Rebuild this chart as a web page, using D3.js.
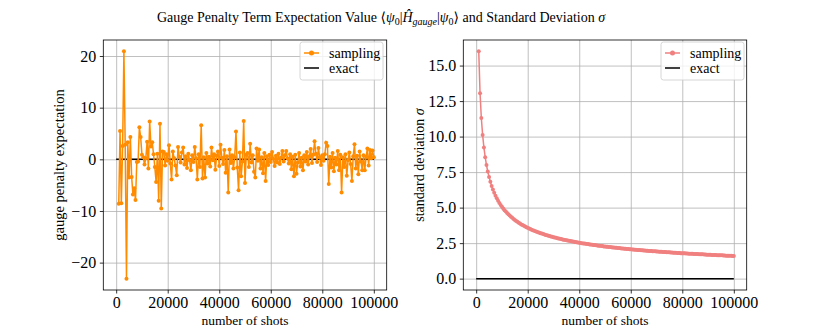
<!DOCTYPE html>
<html>
<head>
<meta charset="utf-8">
<script src="https://d3js.org/d3.v7.min.js"></script>
<style>
  body { margin: 0; background: #fff; }
  svg text { font-family: "Liberation Serif", "DejaVu Serif", serif; fill: #000; }
</style>
</head>
<body>
<svg width="830" height="332"></svg>
<script>
// number of shots per sample
var shots = [1000,1500,2000,2500,3000,3500,4000,4500,5000,5500,6000,6500,7000,7500,8000,8500,9000,9500,10000,10500,
  11000,11500,12000,12500,13000,13500,14000,14500,15000,15500,16000,16500,17000,17500,18000,18500,19000,19500,20000,20500,
  21000,21500,22000,22500,23000,23500,24000,24500,25000,25500,26000,26500,27000,27500,28000,28500,29000,29500,30000,30500,
  31000,31500,32000,32500,33000,33500,34000,34500,35000,35500,36000,36500,37000,37500,38000,38500,39000,39500,40000,40500,
  41000,41500,42000,42500,43000,43500,44000,44500,45000,45500,46000,46500,47000,47500,48000,48500,49000,49500,50000,50500,
  51000,51500,52000,52500,53000,53500,54000,54500,55000,55500,56000,56500,57000,57500,58000,58500,59000,59500,60000,60500,
  61000,61500,62000,62500,63000,63500,64000,64500,65000,65500,66000,66500,67000,67500,68000,68500,69000,69500,70000,70500,
  71000,71500,72000,72500,73000,73500,74000,74500,75000,75500,76000,76500,77000,77500,78000,78500,79000,79500,80000,80500,
  81000,81500,82000,82500,83000,83500,84000,84500,85000,85500,86000,86500,87000,87500,88000,88500,89000,89500,90000,90500,
  91000,91500,92000,92500,93000,93500,94000,94500,95000,95500,96000,96500,97000,97500,98000,98500,99000,99500,100000];

var expectation = [-8.6,5.5,-8.5,2.6,20.9,2.8,-23.1,3.3,-3.5,4.3,
  -3.4,-6.8,-5.6,-7.9,-0.5,-0.4,6.2,4.3,0.9,0.4,
  -1.0,0.2,3.4,-1.8,7.3,2.5,3.3,1.0,-1.5,-4.4,
  1.1,-8.0,6.9,-9.5,1.5,1.4,-1.2,1.0,-0.3,2.7,
  -0.8,-3.9,1.5,0.2,-1.2,-3.1,2.4,0.5,-0.6,1.3,
  2.3,-1.0,0.6,-1.7,1.1,-0.2,-2.1,0.8,-0.5,2.4,
  0.2,-3.9,1.0,-1.5,6.6,-3.7,0.4,-3.5,1.2,-0.8,
  0.5,-1.4,2.3,-0.2,1.0,-2.0,0.7,1.5,-1.3,2.8,
  0.3,-0.9,1.8,-2.6,0.6,-6.4,1.9,-0.7,0.8,-1.8,
  0.4,5.4,-1.6,-6.0,1.3,-3.3,-0.4,7.4,-4.6,0.9,
  1.2,-1.5,3.0,-0.6,0.8,-2.4,-3.5,2.1,-0.3,1.9,
  -1.8,0.4,-2.7,1.2,-4.2,0.6,-1.1,0.9,-0.5,1.4,
  0.1,-1.3,0.7,-0.6,1.1,-0.9,0.3,1.6,-0.4,0.8,
  1.6,0.2,-0.8,1.0,-1.9,0.5,-3.3,0.9,-2.8,-0.6,
  1.2,-1.4,0.3,-2.1,0.8,-0.4,1.4,-1.0,0.6,2.0,
  -0.7,0.9,3.5,1.1,-0.5,2.2,0.4,-1.1,0.8,-0.3,
  1.0,3.2,2.6,-4.8,0.5,-1.6,1.2,-2.3,0.3,-1.0,
  1.6,-2.1,0.9,-6.4,0.4,-1.5,1.0,-3.2,-0.2,1.3,
  -0.9,-4.2,0.6,2.9,-1.8,0.7,-2.9,1.5,-0.4,-2.1,
  0.8,-2.1,0.5,2.1,-1.2,1.8,0.2,1.7,0.4];

// standard deviation
var sigma = [16.00,13.06,11.31,10.12,9.24,8.55,8.00,7.54,7.16,6.82,
  6.53,6.28,6.05,5.84,5.66,5.49,5.33,5.19,5.06,4.94,
  4.82,4.72,4.62,4.53,4.44,4.35,4.28,4.20,4.13,4.06,
  4.00,3.94,3.88,3.82,3.77,3.72,3.67,3.62,3.58,3.53,
  3.49,3.45,3.41,3.37,3.34,3.30,3.27,3.23,3.20,3.17,
  3.14,3.11,3.08,3.05,3.02,3.00,2.97,2.95,2.92,2.90,
  2.87,2.85,2.83,2.81,2.79,2.76,2.74,2.72,2.70,2.69,
  2.67,2.65,2.63,2.61,2.60,2.58,2.56,2.55,2.53,2.51,
  2.50,2.48,2.47,2.45,2.44,2.43,2.41,2.40,2.39,2.37,
  2.36,2.35,2.33,2.32,2.31,2.30,2.29,2.27,2.26,2.25,
  2.24,2.23,2.22,2.21,2.20,2.19,2.18,2.17,2.16,2.15,
  2.14,2.13,2.12,2.11,2.10,2.09,2.08,2.07,2.07,2.06,
  2.05,2.04,2.03,2.02,2.02,2.01,2.00,1.99,1.98,1.98,
  1.97,1.96,1.95,1.95,1.94,1.93,1.93,1.92,1.91,1.91,
  1.90,1.89,1.89,1.88,1.87,1.87,1.86,1.85,1.85,1.84,
  1.84,1.83,1.82,1.82,1.81,1.81,1.80,1.79,1.79,1.78,
  1.78,1.77,1.77,1.76,1.76,1.75,1.75,1.74,1.74,1.73,
  1.73,1.72,1.72,1.71,1.71,1.70,1.70,1.69,1.69,1.68,
  1.68,1.67,1.67,1.66,1.66,1.65,1.65,1.65,1.64,1.64,
  1.63,1.63,1.62,1.62,1.62,1.61,1.61,1.60,1.60];

// exact reference line
var exactShots = [0, 100000];
var exactValue = [0, 0];

var xTicks = [0, 20000, 40000, 60000, 80000, 100000];
var leftTicks = [-20, -10, 0, 10, 20];
var rightTicks = [0, 2.5, 5, 7.5, 10, 12.5, 15];

var svg = d3.select("svg");
var plotTop = 40, plotBottom = 290;

var minus = function(s) { return s.replace("-", "\u2212"); };

// title
var title = svg.append("text")
  .attr("x", 381).attr("y", 22)
  .attr("text-anchor", "middle")
  .style("font-size", "14px");
title.append("tspan").text("Gauge Penalty Term Expectation Value \u27E8");
title.append("tspan").style("font-style", "italic").text("\u03C8");
title.append("tspan").attr("dy", 3).style("font-size", "10px").text("0");
title.append("tspan").attr("dy", -3).text("|");
title.append("tspan").style("font-style", "italic").text("H\u0302");
title.append("tspan").attr("dy", 3).style("font-size", "10px").style("font-style", "italic").text("gauge");
title.append("tspan").attr("dy", -3).text("|");
title.append("tspan").style("font-style", "italic").text("\u03C8");
title.append("tspan").attr("dy", 3).style("font-size", "10px").text("0");
title.append("tspan").attr("dy", -3).text("\u27E9 and Standard Deviation ");
title.append("tspan").style("font-style", "italic").text("\u03C3");

function panel(left, right, yDomain, yTicks, yFmt, values, color, yLabel, labelX, labelSize, legendX) {
  var x = d3.scaleLinear().domain([-5000, 105000]).range([left, right]);
  var y = d3.scaleLinear().domain(yDomain).range([plotBottom, plotTop]);
  var g = svg.append("g");

  // grid
  g.append("g").attr("transform", "translate(0," + plotBottom + ")")
    .call(d3.axisBottom(x).tickValues(xTicks).tickSize(-(plotBottom - plotTop)).tickFormat(""))
    .call(function(s) { s.select(".domain").remove(); s.selectAll("line").attr("stroke", "#b0b0b0").attr("stroke-width", 0.8); });
  g.append("g").attr("transform", "translate(" + left + ",0)")
    .call(d3.axisLeft(y).tickValues(yTicks).tickSize(-(right - left)).tickFormat(""))
    .call(function(s) { s.select(".domain").remove(); s.selectAll("line").attr("stroke", "#b0b0b0").attr("stroke-width", 0.8); });

  // exact
  g.append("path")
    .datum(exactShots.map(function(d, i) { return [d, exactValue[i]]; }))
    .attr("fill", "none").attr("stroke", "#000").attr("stroke-width", 1.5)
    .attr("d", d3.line().x(function(d) { return x(d[0]); }).y(function(d) { return y(d[1]); }));

  // sampling
  var pts = shots.map(function(d, i) { return [d, values[i]]; });
  g.append("path").datum(pts)
    .attr("fill", "none").attr("stroke", color).attr("stroke-width", 1.5)
    .attr("d", d3.line().x(function(d) { return x(d[0]); }).y(function(d) { return y(d[1]); }));
  g.selectAll(".pt").data(pts).enter().append("circle")
    .attr("cx", function(d) { return x(d[0]); })
    .attr("cy", function(d) { return y(d[1]); })
    .attr("r", 2).attr("fill", color);

  // axes
  var ax = g.append("g").attr("transform", "translate(0," + plotBottom + ")")
    .call(d3.axisBottom(x).tickValues(xTicks).tickSize(3.5).tickPadding(3).tickFormat(d3.format("d")));
  var ay = g.append("g").attr("transform", "translate(" + left + ",0)")
    .call(d3.axisLeft(y).tickValues(yTicks).tickSize(3.5).tickPadding(3.5).tickFormat(function(d) { return minus(d3.format(yFmt)(d)); }));
  [ax, ay].forEach(function(a) {
    a.select(".domain").remove();
    a.selectAll("line").attr("stroke", "#000").attr("stroke-width", 0.8);
    a.selectAll("text").attr("font-family", null).attr("font-size", null).style("font-size", "16px");
  });

  g.append("rect").attr("x", left).attr("y", plotTop)
    .attr("width", right - left).attr("height", plotBottom - plotTop)
    .attr("fill", "none").attr("stroke", "#000").attr("stroke-width", 0.8);

  g.append("text").attr("x", (left + right) / 2).attr("y", 325)
    .attr("text-anchor", "middle").style("font-size", "13.5px").text("number of shots");
  var yl = g.append("text")
    .attr("transform", "translate(" + labelX + "," + ((plotTop + plotBottom) / 2) + ") rotate(-90)")
    .attr("text-anchor", "middle").style("font-size", labelSize);
  yl.append("tspan").text(yLabel[0]);
  if (yLabel[1]) yl.append("tspan").style("font-style", "italic").text(yLabel[1]);

  // legend
  var lg = g.append("g").attr("transform", "translate(" + legendX + ",42)");
  lg.append("rect").attr("width", 83).attr("height", 38).attr("rx", 2.5)
    .attr("fill", "#fff").attr("fill-opacity", 0.8).attr("stroke", "#ccc").attr("stroke-width", 0.8);
  lg.append("line").attr("x1", 4).attr("x2", 19).attr("y1", 11).attr("y2", 11)
    .attr("stroke", color).attr("stroke-width", 1.5);
  lg.append("circle").attr("cx", 11.5).attr("cy", 11).attr("r", 2.5).attr("fill", color);
  lg.append("line").attr("x1", 4).attr("x2", 19).attr("y1", 26).attr("y2", 26)
    .attr("stroke", "#000").attr("stroke-width", 1.5);
  lg.append("text").attr("x", 29).attr("y", 15.5).style("font-size", "14px").text("sampling");
  lg.append("text").attr("x", 29).attr("y", 30.5).style("font-size", "14px").text("exact");
}

panel(103.3, 386.7, [-25.3, 23.1], leftTicks, "d", expectation, "#ff8c00",
  ["gauge penalty expectation"], 64, "14.5px", 300);
panel(463.3, 746.7, [-0.8, 16.8], rightTicks, ".1f", sigma, "#f08080",
  ["standard deviation ", "\u03C3"], 424, "14px", 661);
</script>
</body>
</html>
